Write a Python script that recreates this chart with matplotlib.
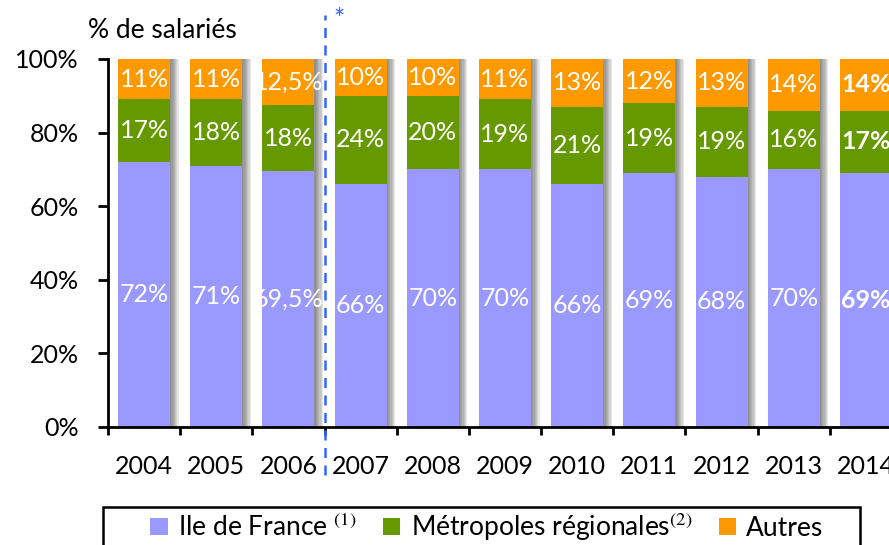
import matplotlib.pyplot as plt
from matplotlib.lines import Line2D
from matplotlib.patches import Patch, Rectangle

years = ["2004", "2005", "2006", "2007", "2008", "2009", "2010", "2011", "2012", "2013", "2014"]
idf = [72, 71, 69.5, 66, 70, 70, 66, 69, 68, 70, 69]
metropoles = [17, 18, 18, 24, 20, 19, 21, 19, 19, 16, 17]
autres = [11, 11, 12.5, 10, 10, 11, 13, 12, 13, 14, 14]

series_names = ["Ile de France $^{(1)}$", "Métropoles régionales$^{(2)}$", "Autres"]
colors = ["#9999FF", "#669900", "#FF9900"]

plt.rcParams["font.family"] = ["Lato", "DejaVu Sans"]
plt.rcParams["mathtext.fontset"] = "stix"

fig = plt.figure(figsize=(8.89, 5.45), dpi=100)
ax = fig.add_axes([108 / 889, 1 - 427 / 545, 794 / 889, 368 / 545])

x = list(range(len(years)))
width = 0.72
totals = [a + b + c for a, b, c in zip(idf, metropoles, autres)]


def fmt(v):
    return f"{v:g}".replace(".", ",") + "%"


# soft shadow on the right of each stack
for k in range(1, 8):
    ax.bar([xi + 0.017 * k for xi in x], totals, width=width, color="#606060",
           alpha=0.15, linewidth=0, zorder=1)

bottom = [0] * len(years)
for vals, col in zip([idf, metropoles, autres], colors):
    ax.bar(x, vals, bottom=bottom, width=width, color=col, linewidth=0, zorder=2)
    for i, v in enumerate(vals):
        ax.text(i, bottom[i] + v / 2, fmt(v), ha="center", va="center", color="white",
                fontsize=18, fontweight="bold" if i == len(years) - 1 else "normal", zorder=3)
    bottom = [b + v for b, v in zip(bottom, vals)]

ax.set_xlim(-0.5, len(years) - 0.5)
ax.set_ylim(0, 100)
ax.set_yticks([0, 20, 40, 60, 80, 100])
ax.set_yticklabels([f"{t}%" for t in [0, 20, 40, 60, 80, 100]])
ax.set_xticks(x)
ax.set_xticklabels(years)
ax.set_xticks([i - 0.5 for i in range(len(years) + 1)], minor=True)

ax.tick_params(axis="y", length=7, width=2, pad=14, labelsize=18, direction="out")
ax.tick_params(axis="x", which="major", length=0, pad=20, labelsize=18)
ax.tick_params(axis="x", which="minor", length=6, width=2, direction="out")
for s in ["top", "right"]:
    ax.spines[s].set_visible(False)
for s in ["left", "bottom"]:
    ax.spines[s].set_linewidth(2)
    ax.spines[s].set_zorder(4)

# break in series between 2006 and 2007
ax.add_line(Line2D([2.5, 2.5], [-13, 112], color="#3366FF", linestyle=(0, (4, 3)),
                   linewidth=1.8, clip_on=False, zorder=5))
ax.text(2.62, 110.5, "*", color="#3366FF", fontsize=19, ha="left", va="center")

fig.text(88 / 889, 1 - 31 / 545, "% de salariés", fontsize=19, ha="left", va="center")

# legend box
fig.patches.append(Rectangle((103 / 889, -0.05), 757 / 889, 0.05 + 38 / 545, transform=fig.transFigure,
                             facecolor="none", edgecolor="black", linewidth=1.8))
handles = [Patch(facecolor=c, edgecolor="none") for c in colors]
fig.legend(handles, series_names, loc="center", bbox_to_anchor=(487 / 889, 1 - 527 / 545),
           ncol=3, fontsize=19, frameon=False, handlelength=0.65, handleheight=0.65,
           handletextpad=0.4, columnspacing=1.0, borderpad=0, borderaxespad=0)

fig.savefig("out.png", dpi=100)
